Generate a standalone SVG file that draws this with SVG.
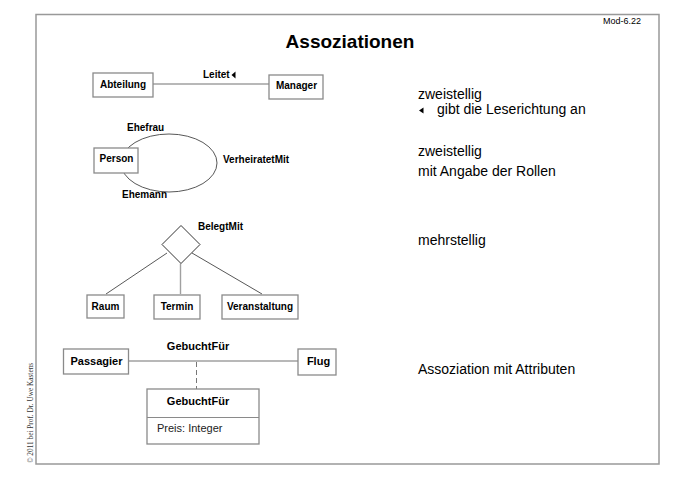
<svg xmlns="http://www.w3.org/2000/svg" width="678" height="480" viewBox="0 0 678 480">
<style>
  .frame{fill:none;stroke:#999;stroke-width:1.5}
  .box{fill:#fff;stroke:#8a8a8a;stroke-width:1.3}
  .hl{fill:none;stroke:#a0a0a0;stroke-width:1.4}
  .dl{fill:none;stroke:#444;stroke-width:0.9}
  .dash{fill:none;stroke:#777;stroke-width:1;stroke-dasharray:5,3}
  .b10{font-family:"Liberation Sans",Arial,sans-serif;font-weight:bold;font-size:10px;fill:#000}
  .b11{font-family:"Liberation Sans",Arial,sans-serif;font-weight:bold;font-size:11px;fill:#000}
  .r11{font-family:"Liberation Sans",Arial,sans-serif;font-size:11px;fill:#222}
  .note{font-family:"Liberation Sans",Arial,sans-serif;font-size:14px;fill:#000}
</style>
<rect width="678" height="480" fill="#fff"/>
<rect class="frame" x="36" y="14.5" width="623" height="449.5"/>
<text x="350" y="48" text-anchor="middle" style="font-family:'Liberation Sans',Arial,sans-serif;font-weight:bold;font-size:19px">Assoziationen</text>
<text x="603" y="24" style="font-family:'Liberation Sans',Arial,sans-serif;font-size:9px">Mod-6.22</text>
<text transform="translate(33,463) rotate(-90)" style="font-family:'Liberation Serif','Times New Roman',serif;font-size:7.3px;fill:#333">© 2011 bei Prof. Dr. Uwe Kastens</text>

<g id="connectors">
  <line class="hl" x1="153" y1="84" x2="269" y2="84"/>
  <ellipse class="dl" cx="169" cy="163" rx="48" ry="29"/>
  <line class="dl" x1="167" y1="253" x2="106" y2="294"/>
  <line class="hl" x1="180.5" y1="263.5" x2="180.5" y2="294"/>
  <line class="dl" x1="192" y1="253" x2="262" y2="294"/>
  <line class="hl" x1="128" y1="361" x2="298" y2="361"/>
  <line class="dash" x1="196.5" y1="362" x2="196.5" y2="389"/>
</g>

<g id="assoc-leitet">
  <text class="b10" x="203" y="78">Leitet</text>
  <polygon points="231.5,75 235.5,71.5 235.5,78.5" fill="#000"/>
</g>
<g id="abteilung">
  <rect class="box" x="93" y="73" width="60" height="24"/>
  <text class="b10" x="123" y="88" text-anchor="middle">Abteilung</text>
</g>
<g id="manager">
  <rect class="box" x="269" y="75" width="54" height="24"/>
  <text class="b10" x="296.5" y="89" text-anchor="middle">Manager</text>
</g>

<g id="person">
  <rect class="box" x="94" y="148" width="44" height="25"/>
  <text class="b10" x="116.5" y="162" text-anchor="middle">Person</text>
</g>
<g id="assoc-verheiratet">
  <text class="b10" x="127" y="131">Ehefrau</text>
  <text class="b10" x="122" y="198">Ehemann</text>
  <text class="b10" x="223" y="163">VerheiratetMit</text>
</g>

<g id="belegtmit">
  <polygon points="181,225.5 200,244.5 181,263.5 162,244.5" fill="#fff" stroke="#333" stroke-width="1"/>
  <text class="b10" x="198" y="230">BelegtMit</text>
</g>
<g id="raum">
  <rect class="box" x="87" y="295" width="37" height="23"/>
  <text class="b10" x="105.5" y="310" text-anchor="middle">Raum</text>
</g>
<g id="termin">
  <rect class="box" x="154" y="295" width="46" height="24"/>
  <text class="b10" x="177" y="310" text-anchor="middle">Termin</text>
</g>
<g id="veranstaltung">
  <rect class="box" x="222" y="295" width="76" height="24"/>
  <text class="b10" x="260" y="310" text-anchor="middle">Veranstaltung</text>
</g>

<g id="passagier">
  <rect class="box" x="63.5" y="349" width="65" height="25"/>
  <text class="b11" x="96.5" y="365" text-anchor="middle">Passagier</text>
</g>
<g id="flug">
  <rect class="box" x="298" y="349" width="38" height="26"/>
  <text class="b11" x="318.5" y="365" text-anchor="middle">Flug</text>
</g>
<g id="assoc-gebuchtfuer">
  <text class="b11" x="198" y="350" text-anchor="middle">GebuchtFür</text>
</g>
<g id="gebuchtfuer-class">
  <rect class="box" x="147" y="389" width="112" height="55"/>
  <line x1="147" y1="417.5" x2="259" y2="417.5" stroke="#8a8a8a" stroke-width="1.2"/>
  <text class="b11" x="198" y="405" text-anchor="middle">GebuchtFür</text>
  <text class="r11" x="157" y="432">Preis: Integer</text>
</g>

<g id="notes">
  <text class="note" x="418" y="99">zweistellig</text>
  <polygon points="419,110.5 423.5,107.5 423.5,113.5" fill="#000"/>
  <text class="note" x="437" y="114">gibt die Leserichtung an</text>
  <text class="note" x="418" y="156">zweistellig</text>
  <text class="note" x="418" y="176">mit Angabe der Rollen</text>
  <text class="note" x="418" y="245">mehrstellig</text>
  <text class="note" x="418" y="374">Assoziation mit Attributen</text>
</g>
</svg>
